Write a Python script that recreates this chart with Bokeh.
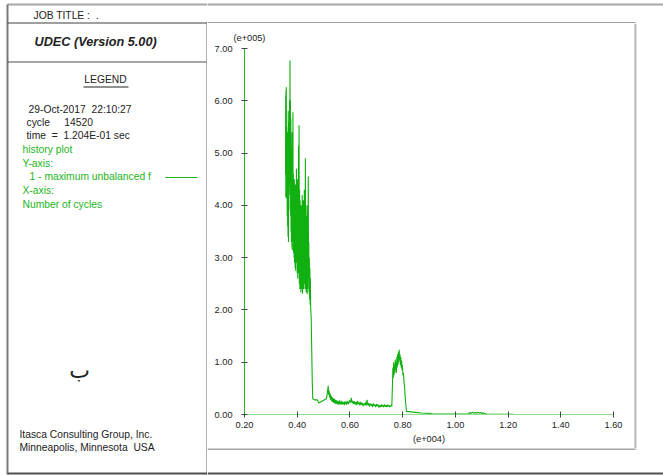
from bokeh.plotting import figure
from bokeh.models import FixedTicker, PrintfTickFormatter, Range1d, ColumnDataSource, Title
from bokeh.layouts import row, column
from bokeh.core.properties import value
from bokeh.embed import file_html
from bokeh.resources import INLINE

# ---- data (x in e+004 cycles, y in e+005) ----
x_ticks = [0.20, 0.40, 0.60, 0.80, 1.00, 1.20, 1.40, 1.60]
y_ticks = [0.0, 1.0, 2.0, 3.0, 4.0, 5.0, 6.0, 7.0]

cycles_spiky = [0.3556, 0.3562, 0.3568, 0.3574, 0.3580, 0.3586, 0.3592, 0.3598, 0.3604, 0.3612,
                0.3620, 0.3628, 0.3636, 0.3644, 0.3652, 0.3660, 0.3668, 0.3676, 0.3684, 0.3692,
                0.3700, 0.3710, 0.3718, 0.3726, 0.3734, 0.3742, 0.3750, 0.3758, 0.3766, 0.3774,
                0.3782, 0.3790, 0.3798, 0.3806, 0.3814, 0.3822, 0.3830, 0.3838, 0.3846, 0.3854,
                0.3862, 0.3870, 0.3880, 0.3890, 0.3900, 0.3910, 0.3920, 0.3930, 0.3940, 0.3950,
                0.3960, 0.3970, 0.3980, 0.3990, 0.4000, 0.4010, 0.4020, 0.4030, 0.4040, 0.4050,
                0.4060, 0.4070, 0.4080, 0.4090, 0.4100, 0.4110, 0.4120, 0.4130, 0.4140, 0.4150,
                0.4160, 0.4170, 0.4180, 0.4190, 0.4200, 0.4210, 0.4220, 0.4230, 0.4240, 0.4250,
                0.4260, 0.4270, 0.4280, 0.4290, 0.4300, 0.4310, 0.4320, 0.4330, 0.4340, 0.4350,
                0.4360, 0.4370, 0.4380, 0.4390, 0.4400, 0.4410, 0.4420, 0.4430, 0.4440, 0.4450,
                0.4460, 0.4470, 0.4480, 0.4490, 0.4500, 0.4510, 0.4530, 0.4570, 0.4590]
unbal_spiky = [4.60, 6.10, 4.15, 6.20, 4.40, 6.26, 4.30, 5.50, 4.13, 5.20,
               3.80, 5.40, 3.60, 5.00, 3.40, 5.81, 3.30, 5.30, 3.90, 5.60,
               4.20, 6.00, 4.40, 6.77, 4.70, 6.02, 3.80, 5.66, 3.50, 5.10,
               3.30, 4.80, 3.20, 5.40, 3.14, 5.00, 3.50, 5.78, 3.30, 4.60,
               3.10, 4.30, 3.00, 4.50, 2.90, 4.20, 2.80, 4.40, 2.75, 4.00,
               3.10, 4.70, 2.90, 4.20, 2.70, 4.50, 2.60, 4.00, 2.80, 5.14,
               2.70, 5.53, 2.50, 4.30, 2.40, 4.10, 2.60, 3.90, 2.34, 4.00,
               2.50, 3.70, 2.40, 4.20, 2.31, 3.90, 2.60, 4.10, 2.40, 3.60,
               2.70, 4.30, 2.50, 3.50, 2.40, 4.90, 2.60, 3.80, 2.34, 3.40,
               2.50, 4.00, 2.30, 3.60, 2.40, 3.20, 4.55, 2.60, 3.30, 2.34,
               3.00, 2.20, 2.80, 2.10, 2.60, 2.05, 1.86, 0.65, 0.30]

cycles_low = [0.4650, 0.4760, 0.4820, 0.4950, 0.5110, 0.5140, 0.5175, 0.5190, 0.5210, 0.5230,
              0.5250, 0.5270, 0.5290, 0.5310, 0.5330, 0.5350, 0.5370, 0.5390, 0.5410, 0.5430,
              0.5450, 0.5470, 0.5490, 0.5510, 0.5530, 0.5550, 0.5570, 0.5590, 0.5610, 0.5630,
              0.5650, 0.5670, 0.5690, 0.5710, 0.5730, 0.5750, 0.5770, 0.5790, 0.5810, 0.5830,
              0.5850, 0.5870, 0.5890, 0.5910, 0.5930, 0.5950, 0.5980, 0.6020, 0.6050, 0.6080,
              0.6110, 0.6140, 0.6170, 0.6200, 0.6230, 0.6260, 0.6290, 0.6320, 0.6350, 0.6380,
              0.6410, 0.6440, 0.6470, 0.6500, 0.6530, 0.6560, 0.6590, 0.6620, 0.6650, 0.6680,
              0.6710, 0.6740, 0.6770, 0.6800, 0.6830, 0.6860, 0.6890, 0.6920, 0.6950, 0.6980,
              0.7010, 0.7040, 0.7070, 0.7100, 0.7130, 0.7160, 0.7190, 0.7220, 0.7250, 0.7280,
              0.7310, 0.7340, 0.7370, 0.7400, 0.7430, 0.7460, 0.7490, 0.7520, 0.7550, 0.7590]
unbal_low = [0.28, 0.28, 0.22, 0.26, 0.30, 0.40, 0.55, 0.38, 0.46, 0.32,
             0.40, 0.28, 0.36, 0.25, 0.33, 0.24, 0.31, 0.22, 0.30, 0.21,
             0.28, 0.20, 0.27, 0.21, 0.26, 0.19, 0.25, 0.20, 0.27, 0.19,
             0.24, 0.20, 0.26, 0.19, 0.23, 0.20, 0.24, 0.18, 0.25, 0.20,
             0.23, 0.19, 0.26, 0.21, 0.24, 0.20, 0.27, 0.23, 0.32, 0.22,
             0.26, 0.20, 0.25, 0.19, 0.24, 0.18, 0.26, 0.20, 0.23, 0.17,
             0.24, 0.19, 0.22, 0.16, 0.21, 0.18, 0.23, 0.17, 0.28, 0.18,
             0.22, 0.15, 0.21, 0.17, 0.20, 0.14, 0.21, 0.17, 0.19, 0.14,
             0.20, 0.16, 0.19, 0.13, 0.18, 0.14, 0.19, 0.15, 0.18, 0.14,
             0.19, 0.15, 0.18, 0.14, 0.19, 0.15, 0.17, 0.14, 0.18, 0.16]

cycles_bump = [0.7615, 0.7630, 0.7645, 0.7660, 0.7675, 0.7690, 0.7705, 0.7720, 0.7735, 0.7750,
               0.7765, 0.7780, 0.7795, 0.7810, 0.7825, 0.7840, 0.7855, 0.7870, 0.7885, 0.7900,
               0.7915, 0.7930, 0.7945, 0.7960, 0.7975, 0.7990, 0.8010, 0.8030, 0.8050, 0.8070,
               0.8110, 0.8146]
unbal_bump = [0.60, 0.90, 0.70, 1.00, 0.75, 0.95, 0.80, 1.05, 0.85, 1.00,
              0.80, 1.10, 0.90, 1.15, 0.95, 1.20, 1.00, 1.24, 1.05, 1.15,
              0.95, 1.10, 0.90, 1.03, 0.85, 0.95, 0.75, 0.80, 0.62, 0.55,
              0.25, 0.06]

cycles_tail = [0.8300, 0.8500, 0.8700, 0.9060, 0.9100, 1.0500, 1.0550, 1.0600, 1.0650, 1.0700,
               1.0750, 1.0800, 1.0850, 1.0900, 1.0950, 1.1000, 1.1050, 1.1100, 1.1200, 1.2200]
unbal_tail = [0.05, 0.04, 0.03, 0.02, 0.01, 0.01, 0.04, 0.02, 0.045, 0.025,
              0.04, 0.02, 0.045, 0.025, 0.04, 0.02, 0.035, 0.02, 0.01, 0.005]

cycles = cycles_spiky + cycles_low + cycles_bump + cycles_tail
unbalanced = unbal_spiky + unbal_low + unbal_bump + unbal_tail

# ---- legend panel texts (non-breaking spaces keep the original spacing) ----
NB = "\u00a0"
header_text = ["JOB TITLE :" + NB + NB + "."]
title_text = ["UDEC (Version 5.00)"]
legend_head = ["LEGEND"]
info_text = ["29-Oct-2017" + NB + NB + "22:10:27",
             "cycle" + NB * 5 + "14520",
             "time" + NB + NB + "=" + NB + NB + "1.204E-01 sec"]
green_text = ["history plot", "Y-axis:", "1 - maximum unbalanced f", "X-axis:", "Number of cycles"]
company_text = ["Itasca Consulting Group, Inc.", "Minneapolis, Minnesota" + NB + NB + "USA"]
mark_text = ["ب"]

GREEN = "#22b522"
DARK = "#222222"
FONT = "Liberation Sans"


def blank(w, h):
    f = figure(width=w, height=h, output_backend="svg", toolbar_location=None,
               x_range=Range1d(0, w), y_range=Range1d(h, 0),
               x_axis_location=None, y_axis_location=None, min_border=0)
    f.grid.visible = False
    f.outline_line_color = None
    f.background_fill_color = "white"
    f.border_fill_color = "white"
    return f


def bar(f, l, r, t, b, color):
    f.quad(left=[l], right=[r], top=[t], bottom=[b], fill_color=color, line_color=None)


def texts(f, xs, ys, txt, color=DARK, size="10.3px", style="normal", font=FONT, align="left"):
    f.text(x=xs, y=ys, text=txt, text_font=value(font), text_font_size=value(size),
           text_color=color, text_font_style=style, text_baseline="middle", text_align=align)


# ---- left panel (x 0..206) ----
left = blank(207, 475)
bar(left, 7, 207, 3, 5, "#a8a8a8")
bar(left, 6, 8, 4, 474, "#7a7a7a")
bar(left, 7, 207, 22, 23, "#404040")
bar(left, 7, 206, 61, 62, "#505050")
bar(left, 206, 207, 22, 475, "#606060")
bar(left, 7, 207, 472, 474, "#505050")
texts(left, [33], [15], header_text)
texts(left, [34], [41], title_text, size="12.7px", style="bold italic")
texts(left, [105], [79], legend_head, align="center")
bar(left, 83, 128, 86, 87, DARK)
texts(left, [28, 26, 26], [109, 122, 135], info_text)
texts(left, [22, 22, 29, 22, 22], [149, 163, 176, 190, 204], green_text, color=GREEN)
bar(left, 165, 197, 176.5, 177.5, GREEN)
texts(left, [79], [370], mark_text, size="22px", font="DejaVu Sans", align="center")
texts(left, [19, 19], [434, 447], company_text)

# ---- top strip (x 207..662, y 0..22) ----
top = blank(456, 23)
bar(top, 0, 456, 3, 5, "#a8a8a8")
bar(top, 0, 428, 22, 23, "#404040")

# ---- chart (x 207..633, y 23..447) ----
p = figure(width=427, height=425, output_backend="svg", toolbar_location=None,
           x_range=Range1d(0.2, 1.6), y_range=Range1d(0, 7),
           min_border_left=37, min_border_right=21, min_border_top=25, min_border_bottom=34)
p.outline_line_color = None
p.grid.visible = False
p.background_fill_color = "white"
p.border_fill_color = "white"
p.line(x="x", y="y", source=ColumnDataSource(dict(x=cycles, y=unbalanced)),
       line_color="#10b010", line_width=1.1)

for ax, ticks, stand in ((p.xaxis[0], x_ticks, 4), (p.yaxis[0], y_ticks, 9)):
    ax.ticker = FixedTicker(ticks=ticks)
    ax.formatter = PrintfTickFormatter(format="%.2f")
    ax.minor_tick_line_color = None
    ax.major_tick_line_color = "#444444"
    ax.major_tick_in = 3
    ax.major_tick_out = 3
    ax.major_label_text_font = FONT
    ax.major_label_text_font_size = "9.2px"
    ax.major_label_text_color = DARK
    ax.major_label_standoff = stand
p.xaxis.axis_line_color = "#8fdc8f"
p.yaxis.axis_line_color = "#22b822"

p.title.text = "(e+005)"
p.title.align = "left"
p.title.offset = -11
p.title.standoff = 12
p.title.text_font = FONT
p.title.text_font_size = "9.2px"
p.title.text_font_style = "normal"
p.title.text_color = DARK
p.add_layout(Title(text="(e+004)", align="center", offset=7, standoff=3,
                   text_font=FONT, text_font_size="9.2px", text_font_style="normal",
                   text_color=DARK), "below")

# ---- right spacer (x 634..662) ----
side = blank(29, 425)
bar(side, 0, 1, 0, 425, "#555555")
bar(side, 1, 2, 0, 426, "#c4c4c4")

# ---- bottom strip (x 207..662, y 448..474) ----
bottom = blank(456, 27)
bar(bottom, 0, 428, 0, 1, "#505050")
bar(bottom, 427, 429, 0, 1, "#c4c4c4")
bar(bottom, 0, 456, 24, 26, "#505050")

layout = row(left, column(top, row(p, column(side)), bottom))
open("out.html", "w").write(file_html(layout, INLINE))
